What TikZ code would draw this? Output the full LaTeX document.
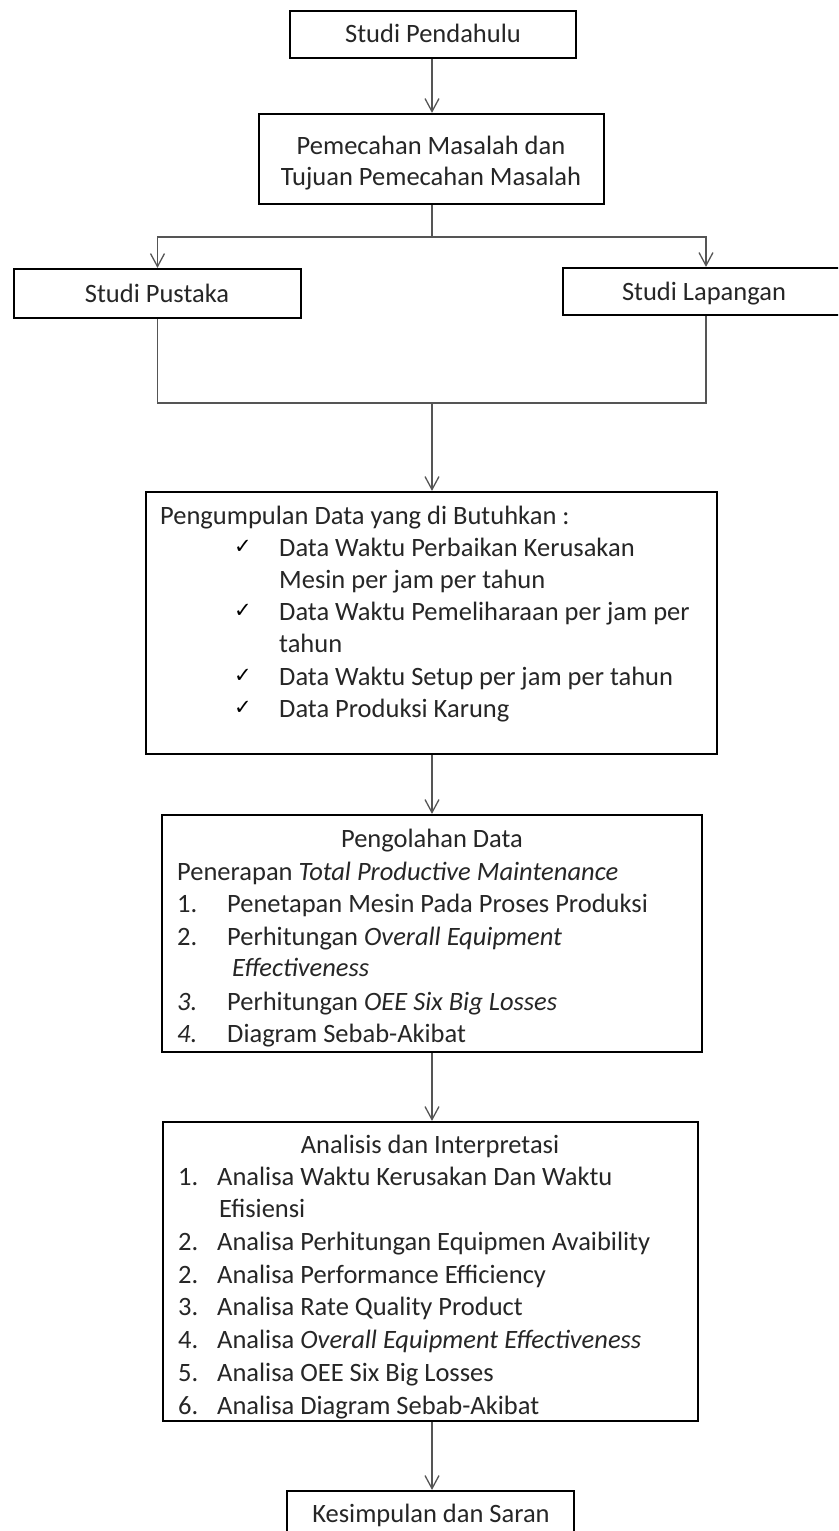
\documentclass[tikz,border=0pt]{standalone}
\usepackage{fontspec}
\setmainfont{Carlito}
\newfontfamily\symfont{DejaVu Sans}
\usetikzlibrary{arrows.meta}
\definecolor{textc}{HTML}{262626}
\definecolor{linec}{HTML}{555555}
\begin{document}
\begin{tikzpicture}[x=1pt,y=-1pt,
  box/.style={draw=black, line width=2.2pt, rectangle, inner sep=0pt},
  lbl/.style={text=textc, inner sep=0pt, font=\fontsize{26.5}{32}\selectfont},
  ltxt/.style={lbl, anchor=base west},
  ctxt/.style={lbl, anchor=base},
  chk/.style={anchor=base west, inner sep=0pt, text=black, font=\symfont\fontsize{21}{24}\selectfont},
  conn/.style={draw=linec, line width=1.3pt},
  arr/.style={conn, -{Straight Barb[length=13pt,width=14pt,line width=1.3pt]}}]
\useasboundingbox (0,0) rectangle (838,1531);
\clip (0,0) rectangle (838,1531);
\fill[white] (0,0) rectangle (838,1531);

% boxes
\node[box, minimum width=286, minimum height=47] (b1) at (433,34.5) {};
\node[box, minimum width=345, minimum height=90] (b2) at (431.5,159) {};
\node[box, minimum width=287, minimum height=49] (sp) at (157.5,293.5) {};
\node[box, minimum width=286, minimum height=47] (sl) at (706,291.5) {};
\node[box, minimum width=571, minimum height=262] (b3) at (431.5,623) {};
\node[box, minimum width=540, minimum height=237] (b4) at (432,933.5) {};
\node[box, minimum width=535, minimum height=299] (b5) at (430.5,1271.5) {};
\node[box, minimum width=287, minimum height=60] (b6) at (430.5,1521) {};

% box texts
\node[ctxt] (t1) at (433,42) {Studi Pendahulu};
\node[ctxt] (t2a) at (431,154) {Pemecahan Masalah dan};
\node[ctxt] (t2b) at (431,185) {Tujuan Pemecahan Masalah};
\node[ctxt] (tsp) at (157,302) {Studi Pustaka};
\node[ctxt] (tsl) at (704,300) {Studi Lapangan};

% box 3
\node[ltxt] (t3a) at (160,524) {Pengumpulan Data yang di Butuhkan :};
\node[chk] (c1) at (234,553) {✓};
\node[ltxt] (t3b) at (279,556) {Data Waktu Perbaikan Kerusakan};
\node[ltxt] (t3c) at (279,588) {Mesin per jam per tahun};
\node[chk] (c2) at (234,617) {✓};
\node[ltxt] (t3d) at (279,620) {Data Waktu Pemeliharaan per jam per};
\node[ltxt] (t3e) at (279,652) {tahun};
\node[chk] (c3) at (234,682) {✓};
\node[ltxt] (t3f) at (279,685) {Data Waktu Setup per jam per tahun};
\node[chk] (c4) at (234,714) {✓};
\node[ltxt] (t3g) at (279,717) {Data Produksi Karung};

% box 4
\node[ctxt] (t4a) at (432,847) {Pengolahan Data};
\node[ltxt] (t4b) at (177,880) {Penerapan \textit{Total Productive Maintenance}};
\node[ltxt] (n41) at (177,912) {1.};
\node[ltxt] (t41) at (227,912) {Penetapan Mesin Pada Proses Produksi};
\node[ltxt] (n42) at (177,945) {2.};
\node[ltxt] (t42) at (227,945) {Perhitungan \textit{Overall Equipment}};
\node[ltxt] (t42b) at (232,976) {\textit{Effectiveness}};
\node[ltxt] (n43) at (177,1010) {\textit{3.}};
\node[ltxt] (t43) at (227,1010) {Perhitungan \textit{OEE Six Big Losses}};
\node[ltxt] (n44) at (177,1042) {\textit{4.}};
\node[ltxt] (t44) at (227,1042) {Diagram Sebab-Akibat};

% box 5
\node[ctxt] (t5a) at (430,1153) {Analisis dan Interpretasi};
\node[ltxt] (n51) at (178,1185) {1.};
\node[ltxt] (t51) at (217,1185) {Analisa Waktu Kerusakan Dan Waktu};
\node[ltxt] (t51b) at (219,1217) {Efisiensi};
\node[ltxt] (n52) at (178,1250) {2.};
\node[ltxt] (t52) at (217,1250) {Analisa Perhitungan Equipmen Avaibility};
\node[ltxt] (n53) at (178,1283) {2.};
\node[ltxt] (t53) at (217,1283) {Analisa Performance Efficiency};
\node[ltxt] (n54) at (178,1315) {3.};
\node[ltxt] (t54) at (217,1315) {Analisa Rate Quality Product};
\node[ltxt] (n55) at (178,1348) {4.};
\node[ltxt] (t55) at (217,1348) {Analisa \textit{Overall Equipment Effectiveness}};
\node[ltxt] (n56) at (178,1381) {5.};
\node[ltxt] (t56) at (217,1381) {Analisa OEE Six Big Losses};
\node[ltxt] (n57) at (178,1414) {6.};
\node[ltxt] (t57) at (217,1414) {Analisa Diagram Sebab-Akibat};

% box 6
\node[ctxt] (t6) at (431,1522) {Kesimpulan dan Saran};

% connectors
\coordinate (split) at (432,237);
\coordinate (join) at (432,403);
\draw[arr] (b1.south -| split) -- (b2.north -| split);
\draw[conn] (b2.south -| split) -- (split);
\draw[arr] (split) -| (sp.north);
\draw[arr] (split) -| (sl.north);
\draw[conn] (sp.south) |- (join);
\draw[conn] (sl.south) |- (join);
\draw[arr] (join) -- (b3.north -| join);
\draw[arr] (b3.south -| join) -- (b4.north -| join);
\draw[arr] (b4.south -| join) -- (b5.north -| join);
\draw[arr] (b5.south -| join) -- (b6.north -| join);
\end{tikzpicture}
\end{document}
